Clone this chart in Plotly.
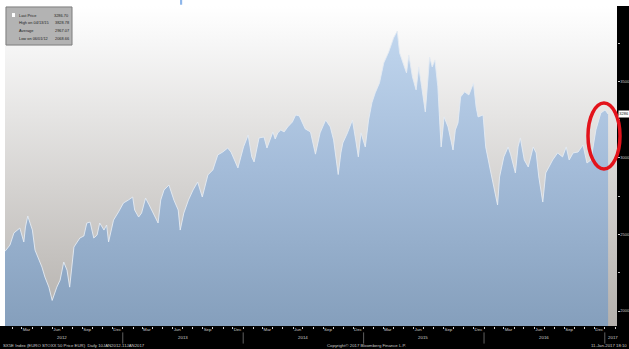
import base64
import plotly.graph_objects as go

# ---- data ----
dates = [
    "2012-01-10", "2012-01-25", "2012-02-06", "2012-02-15", "2012-02-24", "2012-03-07", "2012-03-12",
    "2012-03-19", "2012-04-02", "2012-04-10", "2012-04-23", "2012-05-01", "2012-05-10", "2012-05-22",
    "2012-06-01", "2012-06-15", "2012-06-25", "2012-07-06", "2012-07-16", "2012-07-24", "2012-08-06",
    "2012-08-15", "2012-08-24", "2012-09-05", "2012-09-14", "2012-09-24", "2012-10-05", "2012-10-15",
    "2012-10-23", "2012-11-05", "2012-11-13", "2012-11-19", "2012-12-04", "2012-12-19", "2013-01-03",
    "2013-01-18", "2013-01-31", "2013-02-06", "2013-02-18", "2013-02-27", "2013-03-11", "2013-03-22",
    "2013-04-03", "2013-04-18", "2013-04-26", "2013-05-06", "2013-05-21", "2013-06-05", "2013-06-18",
    "2013-06-24", "2013-07-05", "2013-07-19", "2013-08-02", "2013-08-16", "2013-08-30", "2013-09-16",
    "2013-10-01", "2013-10-16", "2013-10-31", "2013-11-15", "2013-11-25", "2013-12-10", "2013-12-16",
    "2014-01-02", "2014-01-16", "2014-01-27", "2014-02-03", "2014-02-18", "2014-03-05", "2014-03-14",
    "2014-04-01", "2014-04-08", "2014-04-16", "2014-04-25", "2014-05-05", "2014-05-16", "2014-05-30",
    "2014-06-09", "2014-06-20", "2014-07-08", "2014-07-24", "2014-08-08", "2014-08-22", "2014-09-08",
    "2014-09-22", "2014-10-02", "2014-10-16", "2014-10-24", "2014-10-30", "2014-11-13", "2014-11-28",
    "2014-12-08", "2014-12-16", "2014-12-24", "2015-01-06", "2015-01-16", "2015-01-26", "2015-02-05",
    "2015-02-18", "2015-03-03", "2015-03-18", "2015-04-02", "2015-04-13", "2015-04-20", "2015-05-01",
    "2015-05-11", "2015-05-18", "2015-05-29", "2015-06-09", "2015-06-17", "2015-06-26", "2015-07-07",
    "2015-07-20", "2015-07-28", "2015-08-05", "2015-08-14", "2015-08-21", "2015-08-24", "2015-09-02",
    "2015-09-14", "2015-09-29", "2015-10-06", "2015-10-14", "2015-10-22", "2015-11-03", "2015-11-16",
    "2015-11-30", "2015-12-08", "2015-12-14", "2015-12-29", "2016-01-06", "2016-01-15", "2016-01-20",
    "2016-02-11", "2016-02-17", "2016-03-01", "2016-03-14", "2016-03-22", "2016-04-05", "2016-04-13",
    "2016-04-20", "2016-05-02", "2016-05-14", "2016-05-29", "2016-06-07", "2016-06-15", "2016-06-27",
    "2016-07-06", "2016-07-15", "2016-07-27", "2016-08-11", "2016-08-26", "2016-09-06", "2016-09-15",
    "2016-09-27", "2016-10-12", "2016-10-27", "2016-11-08", "2016-11-20", "2016-12-05", "2016-12-20",
    "2017-01-02", "2017-01-11",
]
prices = [
    2390, 2431, 2510, 2529, 2542, 2451, 2549,
    2621, 2529, 2398, 2333, 2287, 2222, 2156,
    2069, 2156, 2202, 2320, 2267, 2156, 2418,
    2451, 2477, 2490, 2575, 2581, 2477, 2496,
    2575, 2529, 2562, 2451, 2594, 2647, 2706,
    2725, 2745, 2660, 2614, 2640, 2738, 2693,
    2640, 2575, 2725, 2791, 2823, 2725, 2660,
    2529, 2640, 2725, 2791, 2843, 2745, 2889,
    2922, 3020, 3039, 3065, 3039, 2967, 2935,
    3072, 3150, 3007, 2974, 3131, 3137, 3065,
    3170, 3124, 3164, 3183, 3170, 3203, 3235,
    3281, 3275, 3190, 3170, 3025, 3164, 3248,
    3203, 3118, 2892, 3033, 3098, 3164, 3248,
    3118, 3007, 3164, 3072, 3248, 3360, 3425,
    3490, 3621, 3693, 3785, 3829, 3687, 3621,
    3556, 3673, 3530, 3445, 3595, 3465, 3301,
    3660, 3595, 3641, 3465, 3183, 3072, 3268,
    3203, 3052, 3183, 3229, 3399, 3432, 3412,
    3490, 3333, 3268, 3281, 3072, 2987, 2922,
    2693, 2876, 3007, 3072, 3020, 2902, 3072,
    3131, 2987, 2941, 3072, 3033, 2876, 2712,
    2902, 2941, 2987, 3033, 3007, 3072, 2987,
    3033, 3039, 3085, 2967, 2987, 3183, 3294,
    3314, 3287,
]

month_tick_dates = [
    "2012-03-15", "2012-06-15", "2012-09-15", "2012-12-15",
    "2013-03-15", "2013-06-15", "2013-09-15", "2013-12-15",
    "2014-03-15", "2014-06-15", "2014-09-15", "2014-12-15",
    "2015-03-15", "2015-06-15", "2015-09-15", "2015-12-15",
    "2016-03-15", "2016-06-15", "2016-09-15", "2016-12-15",
]
month_tick_labels = ["Mar", "Jun", "Sep", "Dec"] * 5
year_labels = ["2012", "2013", "2014", "2015", "2016", "2017"]
year_label_dates = ["2012-07-01", "2013-07-01", "2014-07-01", "2015-07-01", "2016-07-01", "2017-01-04"]
year_starts = ["2013-01-01", "2014-01-01", "2015-01-01", "2016-01-01", "2017-01-01"]

y_tick_vals = [2000, 2500, 3000, 3500]
y_tick_text = ["2000", "2500", "3000", "3500"]

legend_names = ["Last Price", "High on 04/13/15", "Average", "Low on 06/01/12"]
legend_values = ["3286.70", "3828.78", "2967.07", "2068.66"]
last_price = 3286.70

FONT = "Liberation Sans Narrow, Liberation Sans, Arial, sans-serif"
TXT = "#cdcdcd"

fig = go.Figure()
fig.add_trace(go.Scatter(
    x=dates, y=prices, mode="lines",
    line=dict(color="#e4ebf3", width=0.9),
    fill="tozeroy",
    fillgradient=dict(type="vertical", start=1902, stop=3993,
                      colorscale=[[0, "#859fbc"], [0.5, "#a4bcd9"], [1, "#c6dbf2"]]),
    hoverinfo="skip", showlegend=False,
))

# gradient background image
svg = ('<svg xmlns="http://www.w3.org/2000/svg" width="10" height="100" preserveAspectRatio="none">'
       '<defs><linearGradient id="g" x1="0" y1="0" x2="0" y2="1">'
       '<stop offset="0" stop-color="#ffffff"/><stop offset="0.12" stop-color="#f6f6f6"/>'
       '<stop offset="1" stop-color="#b4b0ac"/></linearGradient></defs>'
       '<rect width="10" height="100" fill="url(#g)"/></svg>')
src = "data:image/svg+xml;base64," + base64.b64encode(svg.encode()).decode()

shapes = [
    # right black axis band
    dict(type="rect", xref="paper", yref="paper", x0=1, x1=1.03, y0=-0.1, y1=1,
         fillcolor="black", line=dict(width=0), layer="below"),
    # bottom black band
    dict(type="rect", xref="paper", yref="paper", x0=-0.02, x1=1.03, y0=-0.1, y1=0,
         fillcolor="black", line=dict(width=0), layer="below"),
    # legend box
    dict(type="rect", xref="paper", yref="paper", x0=0.0016, x1=0.1095, y0=0.878, y1=0.997,
         fillcolor="#b3b3b3", line=dict(color="#7d7d7d", width=1), layer="above"),
    dict(type="rect", xref="paper", yref="paper", x0=0.0114, x1=0.0163, y0=0.9656, y1=0.978,
         fillcolor="white", line=dict(width=0), layer="above"),
    # small blue mark at the top
    dict(type="rect", xref="paper", yref="paper", x0=0.286, x1=0.2895, y0=1.004, y1=1.019,
         fillcolor="#8db6ea", line=dict(width=0), layer="above"),
    # red ellipse
    dict(type="circle", xref="paper", yref="paper", x0=0.9526, x1=1.0049, y0=0.4906, y1=0.697,
         line=dict(color="#e3131b", width=3.5), fillcolor="rgba(0,0,0,0)", layer="above"),
]
for ys in year_starts:
    shapes.append(dict(type="line", xref="x", yref="paper", x0=ys, x1=ys, y0=-0.02, y1=-0.055,
                       line=dict(color="#8a8a8a", width=0.7), layer="above"))

annotations = []
leg_rows = [0.969, 0.947, 0.922, 0.897]
for name, val, yy in zip(legend_names, legend_values, leg_rows):
    annotations.append(dict(xref="paper", yref="paper", x=0.0196, y=yy, text=name, showarrow=False,
                            xanchor="left", yanchor="middle", font=dict(size=3.9, color="#222", family=FONT)))
    annotations.append(dict(xref="paper", yref="paper", x=0.1078, y=yy, text=val, showarrow=False,
                            xanchor="right", yanchor="middle", font=dict(size=3.9, color="#222", family=FONT)))
for lab, d in zip(year_labels, year_label_dates):
    annotations.append(dict(xref="x", yref="paper", x=d, y=-0.037, text=lab, showarrow=False,
                            xanchor="left" if lab == "2017" else "center", yanchor="middle",
                            font=dict(size=4.4, color=TXT, family=FONT)))
annotations += [
    dict(xref="paper", yref="y", x=1.001, y=last_price, text="3286", showarrow=False, xanchor="left",
         yanchor="middle", bgcolor="white", borderpad=0.3, font=dict(size=4.0, color="#111", family=FONT)),
    dict(xref="paper", yref="paper", x=-0.007, y=-0.06, text="SX5E Index (EURO STOXX 50 Price EUR)  Daily 10JAN2012-11JAN2017",
         showarrow=False, xanchor="left", yanchor="middle", font=dict(size=4.3, color=TXT, family=FONT)),
    dict(xref="paper", yref="paper", x=0.59, y=-0.06, text="Copyright© 2017 Bloomberg Finance L.P.",
         showarrow=False, xanchor="center", yanchor="middle", font=dict(size=4.3, color=TXT, family=FONT)),
    dict(xref="paper", yref="paper", x=1.019, y=-0.06, text="11-Jan-2017 18:10",
         showarrow=False, xanchor="right", yanchor="middle", font=dict(size=4.3, color=TXT, family=FONT)),
]

fig.update_layout(
    width=629, height=349,
    margin=dict(l=5, r=12, t=6, b=23, autoexpand=False),
    paper_bgcolor="white", plot_bgcolor="rgba(0,0,0,0)",
    images=[dict(source=src, xref="paper", yref="paper", x=0, y=1, sizex=1, sizey=1,
                 xanchor="left", yanchor="top", sizing="stretch", layer="below")],
    shapes=shapes, annotations=annotations,
    xaxis=dict(type="date", range=["2012-01-10", "2017-02-07"], showgrid=False, zeroline=False,
               automargin=False,
               tickvals=month_tick_dates, ticktext=month_tick_labels, ticks="", ticklen=0,
               tickfont=dict(size=4.4, color=TXT, family=FONT),
               minor=dict(dtick="M1", tick0="2012-01-01", ticks="outside", ticklen=2, tickcolor="#cfcfcf",
                          showgrid=False),
               showline=False),
    yaxis=dict(side="right", range=[1902, 3993], showgrid=False, zeroline=False, automargin=False,
               tickvals=y_tick_vals, ticktext=y_tick_text, ticks="outside", ticklen=1.5,
               ticklabelstandoff=0,
               tickcolor="#d0d0d0", tickfont=dict(size=4.0, color=TXT, family=FONT),
               minor=dict(dtick=250, tick0=2000, ticks="outside", ticklen=1.5, tickcolor="#bbbbbb",
                          showgrid=False),
               showline=False),
    font=dict(family=FONT),
)

fig.write_html("out.html", config={"displayModeBar": False},
               post_script="document.body.style.margin='0';document.body.style.overflow='hidden';")
